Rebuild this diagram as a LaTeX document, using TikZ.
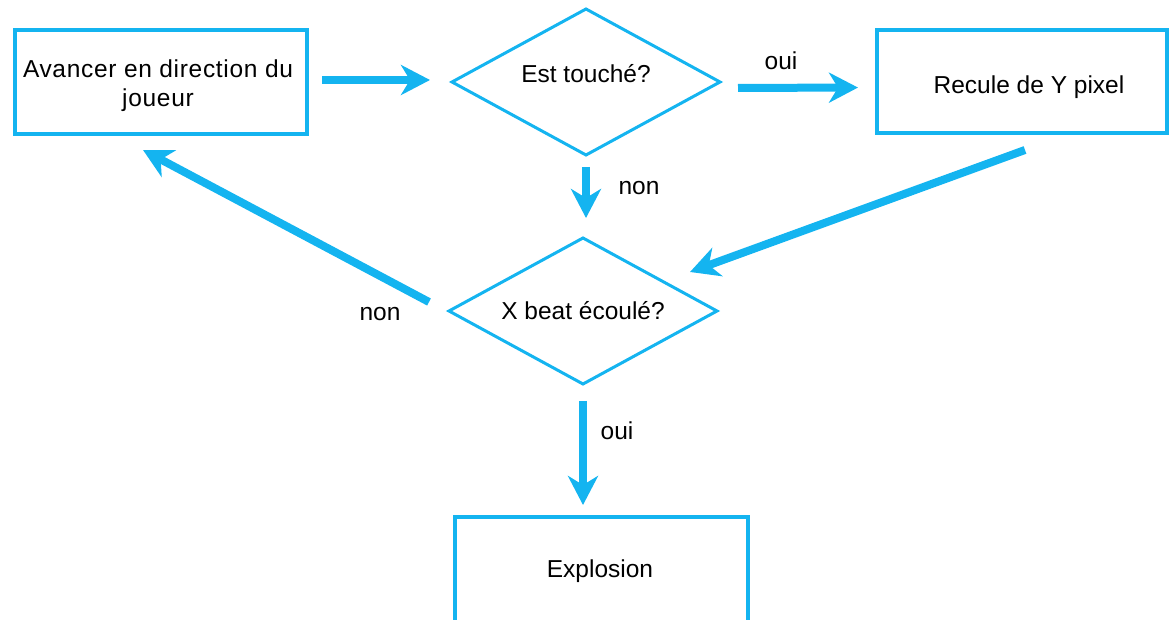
\documentclass[tikz,border=0pt]{standalone}
\usepackage{fontspec}
\setmainfont{Liberation Sans}
\usetikzlibrary{arrows.meta,shapes.geometric,calc}
\definecolor{flowblue}{RGB}{20,180,240}
\begin{document}
\begin{tikzpicture}[x=1pt,y=-1pt,
  every node/.style={font=\fontsize{24.5}{29}\selectfont, text=black},
  procbox/.style={draw=flowblue, line width=4pt, rectangle, minimum height=104pt,
    inner sep=0pt, outer sep=0pt, align=center},
  decision/.style={draw=flowblue, line width=3pt, diamond, aspect=1.85,
    minimum width=268pt, minimum height=146pt, inner sep=0pt, outer sep=0pt},
  flow/.style={draw=flowblue, line width=8pt,
    -{Stealth[length=29pt,width=30pt,inset=9pt]}},
  lbl/.style={inner sep=0pt, align=center}
]
\useasboundingbox (0,0) rectangle (1171,620);

% process boxes and decisions
\node[procbox, minimum width=292pt] (avancer) at (161,82) {};
\node[lbl, font=\fontsize{24.5}{29}\selectfont\addfontfeature{LetterSpace=2.8}]
  (avancertxt) at (158,86) {Avancer en direction du\\joueur};
\node[decision] (touche) at (586,82) {};
\node[lbl] (touchetxt) at (586,74) {Est touché?};
\node[procbox, minimum width=290pt, minimum height=103pt] (recule) at (1022,81.5) {};
\node[lbl] (reculetxt) at (1029,87) {Recule de Y pixel};
\node[decision] (beat) at (583,311) {X beat écoulé?};
\node[procbox, minimum width=293pt, minimum height=110pt] (explosion) at (601.5,572) {};
\node[lbl] (explosiontxt) at (600,571) {Explosion};

% connectors
\draw[flow, shorten <=15pt, shorten >=22pt]
  ([yshift=2pt]avancer.east) -- ([yshift=2pt]touche.west);
\draw[flow, shorten <=18pt, shorten >=19pt]
  ([yshift=-6pt]touche.east) -- ([yshift=-6pt]recule.west);
\draw[flow, shorten <=12pt, shorten >=20pt]
  (touche.south) -- (touche.south |- beat.north);
\draw[flow]
  ($(recule.center)+(3,68.5)$) -- ($(beat.center)+(107,-39)$);
\draw[flow]
  ($(beat.west)+(-20,-9)$) -- ($(avancer.south)+(-18,16)$);
\draw[flow, shorten <=17pt, shorten >=12pt]
  (beat.south) -- (beat.south |- explosion.north);

% branch labels
\node[lbl] (ouiA) at (781,61) {oui};
\node[lbl] (nonA) at (639,188) {non};
\node[lbl] (nonB) at (380,314) {non};
\node[lbl] (ouiB) at (617,431) {oui};
\end{tikzpicture}
\end{document}
